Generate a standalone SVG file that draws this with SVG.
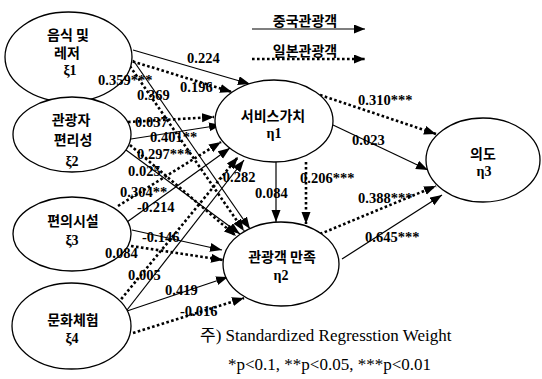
<svg xmlns="http://www.w3.org/2000/svg" width="542" height="379" viewBox="0 0 542 379">
<style>
.e{fill:#fff;stroke:#000;stroke-width:1.3}
.k{font-family:"Noto Sans CJK KR",sans-serif;font-weight:bold;font-size:14px;text-anchor:middle;fill:#000}
.g{font-family:"Liberation Serif","Noto Sans CJK KR",serif;font-weight:bold;font-size:14px;text-anchor:middle;fill:#000}
.n{font-family:"Liberation Serif",serif;font-weight:bold;font-size:14.5px;fill:#000}
.f{font-family:"Liberation Serif","Noto Sans CJK KR",serif;font-size:17px;fill:#000}
.s{stroke:#000;stroke-width:1.2;fill:none;marker-end:url(#a)}
.d{stroke:#000;stroke-width:2.6;stroke-dasharray:2.6 2.4;fill:none;marker-end:url(#a)}
</style>
<defs>
<marker id="a" markerUnits="userSpaceOnUse" markerWidth="13" markerHeight="10" refX="12" refY="4.5" orient="auto"><path d="M0,0 L12,4.5 L0,9 z" fill="#000"/></marker>
<marker id="b" markerUnits="userSpaceOnUse" markerWidth="12" markerHeight="10" refX="11" refY="4.5" orient="auto"><path d="M0,0 L11,4.5 L0,9 z" fill="#000"/></marker>
</defs>
<rect width="542" height="379" fill="#fff"/>
<g id="legend">
<text class="k" x="305" y="26">중국관광객</text>
<line x1="252" y1="29" x2="365" y2="29" stroke="#000" stroke-width="1.2" marker-end="url(#b)"/>
<text class="k" x="305" y="56">일본관광객</text>
<line x1="252" y1="59" x2="365" y2="59" stroke="#000" stroke-width="2.6" stroke-dasharray="2.6 2.4" marker-end="url(#b)"/>
</g>
<g id="connectors">
<line class="s" x1="133" y1="50" x2="250" y2="84"/>
<line class="s" x1="131" y1="139" x2="221" y2="125"/>
<line class="s" x1="127" y1="222" x2="230" y2="148"/>
<line class="s" x1="127" y1="310" x2="244" y2="160"/>
<line class="s" x1="133" y1="60" x2="250" y2="229"/>
<line class="s" x1="126" y1="150" x2="240" y2="234"/>
<line class="s" x1="132" y1="230" x2="222" y2="250"/>
<line class="s" x1="127" y1="311" x2="228" y2="277"/>
<line class="s" x1="276" y1="162" x2="276" y2="222"/>
<line class="s" x1="333" y1="125" x2="428" y2="170"/>
<line class="s" x1="342" y1="259" x2="442" y2="195"/>
<line class="d" x1="128" y1="60" x2="232" y2="92"/>
<line class="d" x1="128" y1="122" x2="214" y2="117"/>
<line class="d" x1="118" y1="206" x2="221" y2="142"/>
<line class="d" x1="118" y1="303" x2="238" y2="157"/>
<line class="d" x1="127" y1="62" x2="244" y2="231"/>
<line class="d" x1="130" y1="145" x2="236" y2="236"/>
<line class="d" x1="131" y1="246" x2="223" y2="260"/>
<line class="d" x1="133" y1="333" x2="244" y2="298"/>
<line class="d" x1="306" y1="162" x2="306" y2="224"/>
<line class="d" x1="320" y1="95" x2="436" y2="134"/>
<line class="d" x1="320" y1="234" x2="436" y2="186"/>
</g>
<g id="xi1"><ellipse class="e" cx="68.5" cy="57" rx="63.5" ry="45"/><text class="k" x="68" y="40">음식 및</text><text class="k" x="67" y="58">레저</text><text class="g" x="70" y="75">ξ1</text></g>
<g id="xi2"><ellipse class="e" cx="72" cy="134.5" rx="59" ry="37.5"/><text class="k" x="71" y="125">관광자</text><text class="k" x="73" y="145">편리성</text><text class="g" x="72" y="166">ξ2</text></g>
<g id="xi3"><ellipse class="e" cx="72" cy="234" rx="59" ry="37"/><text class="k" x="73" y="226">편의시설</text><text class="g" x="72" y="245">ξ3</text></g>
<g id="xi4"><ellipse class="e" cx="71.5" cy="326" rx="59.5" ry="43"/><text class="k" x="73" y="325">문화체험</text><text class="g" x="72" y="343">ξ4</text></g>
<g id="eta1"><ellipse class="e" cx="274" cy="121" rx="59" ry="41"/><text class="k" x="273" y="121">서비스가치</text><text class="g" x="274" y="138">η1</text></g>
<g id="eta2"><ellipse class="e" cx="281" cy="264" rx="58" ry="42"/><text class="k" x="282" y="262">관광객 만족</text><text class="g" x="281" y="280">η2</text></g>
<g id="eta3"><ellipse class="e" cx="483" cy="160" rx="57" ry="42"/><text class="k" x="483" y="159">의도</text><text class="g" x="484" y="176">η3</text></g>
<g id="labels">
<text class="n" x="187" y="63">0.224</text>
<text class="n" x="180" y="92">0.196</text>
<text class="n" x="98" y="85">0.359***</text>
<text class="n" x="137" y="100">0.369</text>
<text class="n" x="135" y="127">0.037</text>
<text class="n" x="150" y="142">0.401**</text>
<text class="n" x="137" y="159">0.297***</text>
<text class="n" x="128" y="176">0.025</text>
<text class="n" x="120" y="197">0.304**</text>
<text class="n" x="137" y="212">-0.214</text>
<text class="n" x="218" y="182">-0.282</text>
<text class="n" x="142" y="242">-0.146</text>
<text class="n" x="105" y="258">0.084</text>
<text class="n" x="128" y="280">0.005</text>
<text class="n" x="165" y="295">0.419</text>
<text class="n" x="180" y="316">-0.016</text>
<text class="n" x="255" y="198">0.084</text>
<text class="n" x="300" y="183">0.206***</text>
<text class="n" x="358" y="105">0.310***</text>
<text class="n" x="352" y="145">0.023</text>
<text class="n" x="358" y="203">0.388***</text>
<text class="n" x="365" y="242">0.645***</text>
</g>
<g id="note">
<text class="f" x="200" y="341">주) Standardized Regresstion Weight</text>
<text class="f" x="228" y="370">*p&lt;0.1, **p&lt;0.05, ***p&lt;0.01</text>
</g>
</svg>
